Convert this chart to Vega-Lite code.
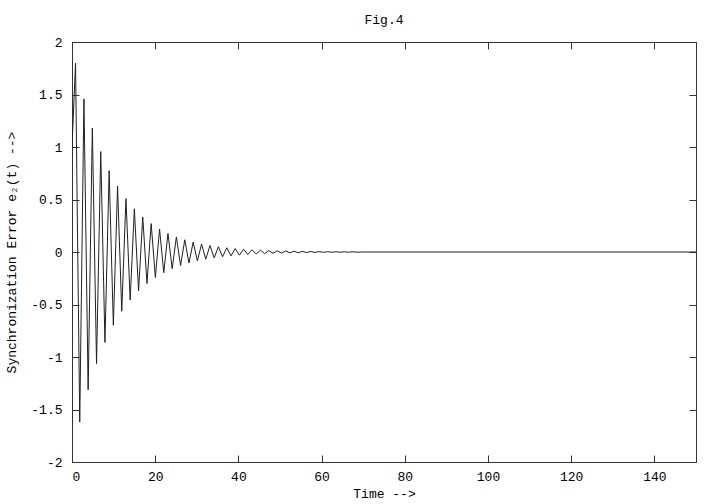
{
  "$schema": "https://vega.github.io/schema/vega-lite/v6.json",
  "width": 624,
  "height": 420,
  "autosize": {"type": "none"},
  "padding": {"left": 72, "top": 42, "right": 24, "bottom": 42},
  "background": "white",
  "title": {
    "text": "Fig.4",
    "font": "Liberation Mono",
    "fontSize": 13,
    "fontWeight": "normal",
    "color": "black",
    "anchor": "middle",
    "offset": 9
  },
  "data": {
    "values": [
      {"t": 0, "e": 1.0},
      {"t": 0.85, "e": 1.8},
      {"t": 1.86, "e": -1.62},
      {"t": 2.87, "e": 1.458},
      {"t": 3.88, "e": -1.3122},
      {"t": 4.89, "e": 1.181},
      {"t": 5.9, "e": -1.0629},
      {"t": 6.91, "e": 0.9566},
      {"t": 7.92, "e": -0.8609},
      {"t": 8.93, "e": 0.7748},
      {"t": 9.94, "e": -0.6974},
      {"t": 10.95, "e": 0.6276},
      {"t": 11.96, "e": -0.5649},
      {"t": 12.97, "e": 0.5084},
      {"t": 13.98, "e": -0.4575},
      {"t": 14.99, "e": 0.4118},
      {"t": 16.0, "e": -0.3706},
      {"t": 17.01, "e": 0.3335},
      {"t": 18.02, "e": -0.3002},
      {"t": 19.03, "e": 0.2702},
      {"t": 20.04, "e": -0.2432},
      {"t": 21.05, "e": 0.2188},
      {"t": 22.06, "e": -0.197},
      {"t": 23.07, "e": 0.1773},
      {"t": 24.08, "e": -0.1595},
      {"t": 25.09, "e": 0.1436},
      {"t": 26.1, "e": -0.1292},
      {"t": 27.11, "e": 0.1163},
      {"t": 28.12, "e": -0.1047},
      {"t": 29.13, "e": 0.0942},
      {"t": 30.14, "e": -0.0848},
      {"t": 31.15, "e": 0.0763},
      {"t": 32.16, "e": -0.0687},
      {"t": 33.17, "e": 0.0618},
      {"t": 34.18, "e": -0.0556},
      {"t": 35.19, "e": 0.0501},
      {"t": 36.2, "e": -0.0451},
      {"t": 37.21, "e": 0.0406},
      {"t": 38.22, "e": -0.0365},
      {"t": 39.23, "e": 0.0328},
      {"t": 40.24, "e": -0.0296},
      {"t": 41.25, "e": 0.0266},
      {"t": 42.26, "e": -0.0239},
      {"t": 43.27, "e": 0.0216},
      {"t": 44.28, "e": -0.0194},
      {"t": 45.29, "e": 0.0175},
      {"t": 46.3, "e": -0.0157},
      {"t": 47.31, "e": 0.0141},
      {"t": 48.32, "e": -0.0127},
      {"t": 49.33, "e": 0.0115},
      {"t": 50.34, "e": -0.0103},
      {"t": 51.35, "e": 0.0093},
      {"t": 52.36, "e": -0.0083},
      {"t": 53.37, "e": 0.0075},
      {"t": 54.38, "e": -0.0068},
      {"t": 55.39, "e": 0.0061},
      {"t": 56.4, "e": -0.0055},
      {"t": 57.41, "e": 0.0049},
      {"t": 58.42, "e": -0.0044},
      {"t": 59.43, "e": 0.004},
      {"t": 60.44, "e": -0.0036},
      {"t": 61.45, "e": 0.0032},
      {"t": 62.46, "e": -0.0029},
      {"t": 63.47, "e": 0.0026},
      {"t": 64.48, "e": -0.0024},
      {"t": 65.49, "e": 0.0021},
      {"t": 66.5, "e": -0.0019},
      {"t": 67.51, "e": 0.0017},
      {"t": 68.52, "e": -0.0015},
      {"t": 70, "e": 0},
      {"t": 150, "e": 0}
    ]
  },
  "layer": [
    {
      "mark": {"type": "line", "color": "#202020", "strokeWidth": 1, "clip": true},
      "encoding": {
        "x": {
          "field": "t",
          "type": "quantitative",
          "scale": {"domain": [0, 150], "nice": false, "zero": false},
          "axis": {
            "orient": "bottom",
            "title": "Time -->",
            "values": [0, 20, 40, 60, 80, 100, 120, 140],
            "labelExpr": "'' + datum.value",
            "labelPadding": 15,
            "titlePadding": 4
          }
        },
        "y": {
          "field": "e",
          "type": "quantitative",
          "scale": {"domain": [-2, 2], "nice": false, "zero": false},
          "axis": {
            "orient": "left",
            "title": "Synchronization Error e₂(t)  -->",
            "values": [-2, -1.5, -1, -0.5, 0, 0.5, 1, 1.5, 2],
            "labelExpr": "'' + datum.value",
            "titlePadding": 12
          }
        }
      }
    },
    {
      "mark": {"type": "line", "opacity": 0},
      "encoding": {
        "x": {
          "field": "t",
          "type": "quantitative",
          "axis": {
            "orient": "top",
            "title": null,
            "labels": false,
            "values": [0, 20, 40, 60, 80, 100, 120, 140]
          }
        },
        "y": {
          "field": "e",
          "type": "quantitative",
          "axis": {
            "orient": "right",
            "title": null,
            "labels": false,
            "values": [-2, -1.5, -1, -0.5, 0, 0.5, 1, 1.5, 2]
          }
        }
      }
    }
  ],
  "resolve": {"axis": {"x": "independent", "y": "independent"}},
  "config": {
    "font": "Liberation Mono",
    "view": {"stroke": "#333333", "strokeWidth": 1},
    "axis": {
      "grid": false,
      "domainColor": "#333333",
      "domainWidth": 1,
      "tickColor": "#333333",
      "tickSize": -7,
      "tickWidth": 1,
      "labelFont": "Liberation Mono",
      "labelFontSize": 13,
      "labelColor": "black",
      "labelPadding": 17,
      "titleFont": "Liberation Mono",
      "titleFontSize": 13,
      "titleFontWeight": "normal",
      "titleColor": "black"
    }
  }
}
